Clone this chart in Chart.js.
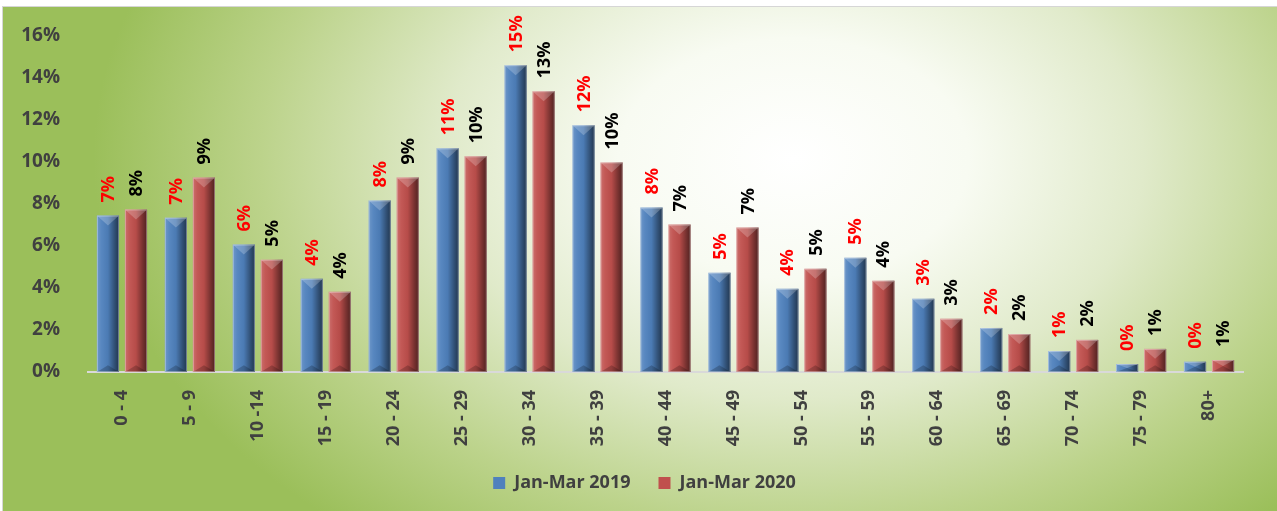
<!DOCTYPE html>
<html>
<head>
<meta charset="utf-8">
<script src="https://cdn.jsdelivr.net/npm/chart.js@4/dist/chart.umd.min.js"></script>
<style>
  html, body { margin: 0; padding: 0; background: #fff; }
  #bg {
    position: absolute; left: 2px; top: 6px; width: 1275px; height: 505px;
    border-top: 1px solid #d6d6d6; border-left: 1px solid #d6d6d6;
    background: radial-gradient(ellipse 700px 480px at 62% 30%, #ffffff 0%, #f8fbf2 25%, #e0eaca 50%, #bcd38b 76%, #9bbf5a 100%);
  }
  #wrap { position: absolute; left: 0; top: 0; width: 1277px; height: 511px; }
</style>
</head>
<body>
<div id="bg"></div>
<div id="wrap"><canvas id="ageChart"></canvas></div>
<script>
const categories = ['0 - 4', '5 - 9', '10 -14', '15 - 19', '20 - 24', '25 - 29', '30 - 34', '35 - 39', '40 - 44',
  '45 - 49', '50 - 54', '55 - 59', '60 - 64', '65 - 69', '70 - 74', '75 - 79', '80+'];
const seriesNames = ['Jan-Mar 2019', 'Jan-Mar 2020'];
const values2019 = [7.45, 7.35, 6.07, 4.44, 8.17, 10.65, 14.61, 11.75, 7.83, 4.73, 3.96, 5.44, 3.49, 2.10, 1.00, 0.38, 0.49];
const values2020 = [7.74, 9.26, 5.35, 3.82, 9.26, 10.27, 13.37, 9.98, 7.02, 6.88, 4.92, 4.35, 2.53, 1.81, 1.53, 1.10, 0.57];
const yTicks = [0, 2, 4, 6, 8, 10, 12, 14, 16];

const FONT = '"Open Sans", "Liberation Sans", sans-serif';
const labelColors = ['#ff0000', '#000000'];

// shading so the bars look like the bevelled excel columns
const bevelPlugin = {
  id: 'bevel',
  afterLayout(chart) {
    // let the rotated category labels run past the squeezed axis box
    chart.scales.x.bottom = chart.height;
    // legend sits a bit right of centre in the original
    chart.legend.left += 18;
    chart.legend.right += 18;
  },
  afterDatasetsDraw(chart) {
    const ctx = chart.ctx;
    chart.data.datasets.forEach((ds, i) => {
      chart.getDatasetMeta(i).data.forEach(bar => {
        const w = bar.width, x0 = bar.x - w / 2, x1 = bar.x + w / 2;
        const top = bar.y, bot = bar.base, h = bot - top;
        if (h <= 0) return;
        ctx.save();
        const g = ctx.createLinearGradient(x0, 0, x1, 0);
        g.addColorStop(0, 'rgba(255,255,255,0.18)');
        g.addColorStop(0.2, 'rgba(255,255,255,0.05)');
        g.addColorStop(0.5, 'rgba(0,0,0,0.05)');
        g.addColorStop(0.8, 'rgba(0,0,0,0.38)');
        g.addColorStop(1, 'rgba(0,0,0,0.58)');
        ctx.fillStyle = g;
        ctx.fillRect(x0, top, w, h);
        const t = Math.min(w * 0.45, h / 2);
        ctx.beginPath();
        ctx.moveTo(x0, top); ctx.lineTo(x1, top); ctx.lineTo(bar.x, top + t); ctx.closePath();
        ctx.fillStyle = 'rgba(255,255,255,0.22)';
        ctx.fill();
        const b = Math.min(w * 0.3, h / 2);
        ctx.beginPath();
        ctx.moveTo(x0, bot); ctx.lineTo(x1, bot); ctx.lineTo(bar.x, bot - b); ctx.closePath();
        ctx.fillStyle = 'rgba(0,0,0,0.2)';
        ctx.fill();
        ctx.strokeStyle = 'rgba(255,255,255,0.35)';
        ctx.lineWidth = 1;
        ctx.strokeRect(x0 + 0.5, top + 0.5, w - 1, h - 1);
        ctx.restore();
      });
    });
  }
};

// vertical value labels above each bar
const valueLabels = {
  id: 'valueLabels',
  afterDatasetsDraw(chart) {
    const ctx = chart.ctx;
    chart.data.datasets.forEach((ds, i) => {
      chart.getDatasetMeta(i).data.forEach((bar, j) => {
        ctx.save();
        ctx.translate(bar.x, bar.y - 13);
        ctx.rotate(-Math.PI / 2);
        ctx.font = 'bold 18px ' + FONT;
        ctx.fillStyle = labelColors[i];
        ctx.textAlign = 'left';
        ctx.textBaseline = 'middle';
        ctx.fillText(Math.round(ds.data[j]) + '%', 0, 1);
        ctx.restore();
      });
    });
  }
};

new Chart(document.getElementById('ageChart'), {
  type: 'bar',
  data: {
    labels: categories,
    datasets: [
      { label: seriesNames[0], data: values2019, backgroundColor: '#4f81bd' },
      { label: seriesNames[1], data: values2020, backgroundColor: '#c0504d' }
    ]
  },
  options: {
    responsive: true,
    maintainAspectRatio: false,
    animation: false,
    categoryPercentage: 0.825,
    barPercentage: 0.79,
    layout: { padding: { top: 36, left: 10, right: 34, bottom: 9 } },
    plugins: {
      tooltip: { enabled: false },
      legend: {
        position: 'bottom',
        labels: {
          boxWidth: 12, boxHeight: 12, padding: 28,
          color: '#404040',
          font: { family: FONT, size: 18, weight: 'bold' }
        }
      }
    },
    scales: {
      x: {
        grid: { display: false },
        border: { color: '#d9d9d9', width: 2 },
        ticks: {
          color: '#404040', minRotation: 90, maxRotation: 90, padding: 10,
          font: { family: FONT, size: 18, weight: 'bold' }
        },
        afterFit(scale) { scale.height = 74; }
      },
      y: {
        min: 0, max: 16,
        grid: { display: false },
        border: { display: false },
        afterBuildTicks(scale) { scale.ticks = yTicks.map(v => ({ value: v })); },
        ticks: {
          color: '#404040', padding: 20,
          font: { family: FONT, size: 19, weight: 'bold' },
          callback: v => v + '%'
        },
        afterFit(scale) { scale.width = 78; }
      }
    }
  },
  plugins: [bevelPlugin, valueLabels]
});
</script>
</body>
</html>
